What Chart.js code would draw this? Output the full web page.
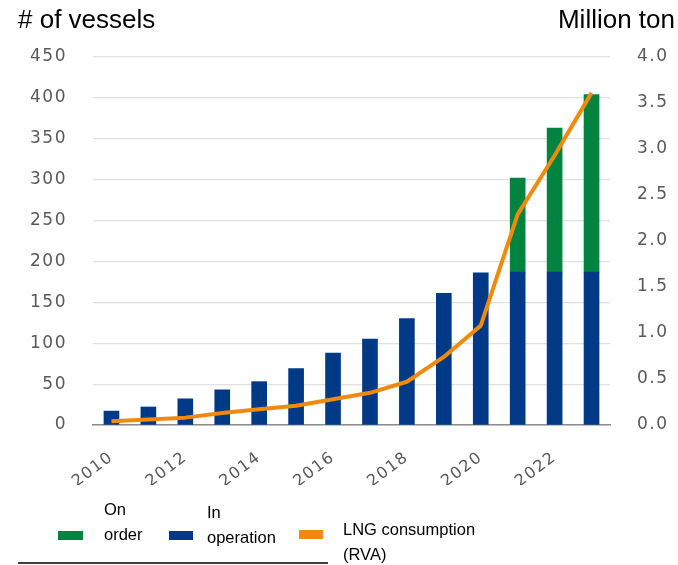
<!DOCTYPE html>
<html>
<head>
<meta charset="utf-8">
<script src="https://cdn.jsdelivr.net/npm/chart.js@4/dist/chart.umd.min.js"></script>
<style>
    html, body { margin: 0; padding: 0; background: #fff; }
    #wrap { position: relative; width: 678px; height: 565px; overflow: hidden; }
    #legend { font-family: "Liberation Sans", Arial, sans-serif; font-size: 16.5px; color: #000; }
    .sw { position: absolute; height: 9px; }
    .lt { position: absolute; line-height: 25px; white-space: nowrap; }
    #rule { position: absolute; left: 18px; top: 562px; width: 310px; height: 2px; background: #404040; }
</style>
</head>
<body>
<div id="wrap">
    <canvas id="chart" width="678" height="565"></canvas>
    <div id="legend">
        <div class="sw" style="left:58px; top:531px; width:25px; background:#00843f"></div>
        <div class="lt" style="left:104px; top:497px">On<br>order</div>
        <div class="sw" style="left:169px; top:531px; width:24px; background:#003a86"></div>
        <div class="lt" style="left:207px; top:500px">In<br>operation</div>
        <div class="sw" style="left:299px; top:530px; width:24px; background:#ef8a0c"></div>
        <div class="lt" style="left:343px; top:517px">LNG consumption<br>(RVA)</div>
    </div>
    <div id="rule"></div>
</div>
<script>
// Data
const years = ['2010', '2011', '2012', '2013', '2014', '2015', '2016', '2017', '2018', '2019', '2020', '2021', '2022', '2023'];
const inOperation = [17, 22, 32, 43, 53, 69, 88, 105, 130, 161, 186, 187, 187, 187];
const onOrder = [null, null, null, null, null, null, null, null, null, null, null, 115, 176, 217];
const lngConsumption = [0.04, 0.06, 0.08, 0.13, 0.17, 0.21, 0.28, 0.35, 0.47, 0.74, 1.08, 2.29, 2.93, 3.61];

const tickColor = '#595959';
const tickFont = { family: '"DejaVu Sans", sans-serif', size: 17 };

// Axis titles at the top corners
const titlesPlugin = {
    id: 'titles',
    beforeDraw: (chart) => {
        // wider tick text, closer to the original font
        chart.ctx.letterSpacing = '1.5px';
    },
    afterDraw: (chart) => {
        let ctx = chart.ctx;
        ctx.save();
        ctx.letterSpacing = '0px';
        ctx.font = '26px "Liberation Sans", Arial, sans-serif';
        ctx.fillStyle = '#000';
        ctx.textBaseline = 'alphabetic';
        ctx.textAlign = 'left';
        ctx.fillText('# of vessels', 18, 28);
        ctx.textAlign = 'right';
        ctx.fillText('Million ton', 675, 28);
        ctx.restore();
    }
};

new Chart(document.getElementById('chart'), {
    type: 'bar',
    data: {
        labels: years,
        datasets: [
            {
                type: 'line',
                label: 'LNG consumption (RVA)',
                data: lngConsumption,
                yAxisID: 'y1',
                borderColor: '#ef8a0c',
                borderWidth: 4,
                pointRadius: 0,
                tension: 0,
                borderJoinStyle: 'round',
                order: 0
            },
            {
                label: 'In operation',
                data: inOperation,
                backgroundColor: '#003a86',
                barThickness: 15,
                order: 1
            },
            {
                label: 'On order',
                data: onOrder,
                backgroundColor: '#00843f',
                barThickness: 15,
                order: 1
            }
        ]
    },
    options: {
        responsive: false,
        animation: false,
        devicePixelRatio: 1,
        layout: { padding: { top: 57, bottom: 80, left: 0, right: 0 } },
        plugins: {
            legend: { display: false },
            tooltip: { enabled: false }
        },
        scales: {
            x: {
                stacked: true,
                grid: { display: false, drawTicks: false },
                border: { display: true, color: '#8c8c8c', width: 1.5 },
                ticks: {
                    autoSkip: false,
                    maxRotation: 37,
                    minRotation: 37,
                    padding: 23,
                    color: tickColor,
                    font: { family: tickFont.family, size: 16 },
                    callback: (value, index) => index % 2 == 0 ? years[index] : ''
                },
                afterFit: (scale) => { scale.height = 60; }
            },
            y: {
                stacked: true,
                min: 0,
                max: 450,
                grid: { color: '#e0e0e0', lineWidth: 1.2, drawTicks: false },
                border: { display: false },
                ticks: { stepSize: 50, padding: 26, color: tickColor, font: tickFont },
                afterFit: (scale) => { scale.width = 93; }
            },
            y1: {
                position: 'right',
                min: 0,
                max: 4,
                grid: { display: false, drawTicks: false },
                border: { display: false },
                ticks: {
                    stepSize: 0.5,
                    padding: 27,
                    color: tickColor,
                    font: tickFont,
                    callback: (value) => value.toFixed(1)
                },
                afterFit: (scale) => { scale.width = 68; }
            }
        }
    },
    plugins: [titlesPlugin]
});
</script>
</body>
</html>
